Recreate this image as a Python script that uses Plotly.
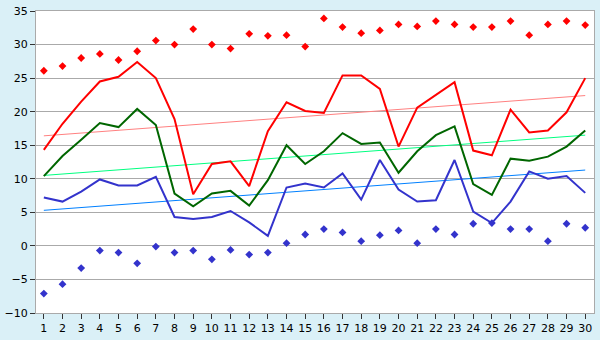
import plotly.graph_objects as go

days = list(range(1, 31))
t_max = [14.3, 18.2, 21.5, 24.5, 25.2, 27.4, 25.0, 18.9, 7.7, 12.2,
         12.6, 8.9, 17.1, 21.4, 20.1, 19.8, 25.4, 25.4, 23.4, 14.8,
         20.6, 22.5, 24.4, 14.2, 13.5, 20.3, 16.9, 17.2, 19.9, 25.0]
t_mean = [10.4, 13.4, 15.8, 18.3, 17.7, 20.4, 18.0, 7.8, 5.9, 7.8,
          8.2, 6.0, 9.8, 15.0, 12.2, 14.1, 16.8, 15.2, 15.4, 10.9,
          14.1, 16.5, 17.8, 9.2, 7.6, 13.0, 12.7, 13.3, 14.8, 17.2]
t_min = [7.2, 6.6, 8.1, 9.9, 9.0, 9.0, 10.3, 4.3, 4.0, 4.3,
         5.2, 3.5, 1.5, 8.7, 9.3, 8.7, 10.8, 6.9, 12.8, 8.4,
         6.6, 6.8, 12.8, 5.1, 3.4, 6.6, 11.1, 10.0, 10.4, 7.9]
rec_max = [26.1, 26.8, 28.0, 28.6, 27.7, 29.0, 30.6, 30.0, 32.3, 30.0,
           29.4, 31.6, 31.3, 31.4, 29.7, 33.9, 32.6, 31.7, 32.1, 33.0,
           32.7, 33.5, 33.0, 32.6, 32.6, 33.5, 31.4, 33.0, 33.5, 32.9]
rec_min = [-7.1, -5.7, -3.3, -0.7, -1.0, -2.6, -0.1, -1.0, -0.7, -2.0,
           -0.6, -1.3, -1.0, 0.4, 1.7, 2.5, 2.0, 0.7, 1.6, 2.3,
           0.4, 2.5, 1.7, 3.3, 3.4, 2.5, 2.5, 0.7, 3.3, 2.7]
y_ticks = [-10, -5, 0, 5, 10, 15, 20, 25, 30, 35]
trend_days = [1, 30]
trend_max = [16.4, 22.4]
trend_mean = [10.5, 16.5]
trend_min = [5.3, 11.3]

fig = go.Figure()
fig.add_trace(go.Scatter(x=days, y=rec_max, mode="markers",
                         marker=dict(symbol="diamond", size=6, color="#ff0000")))
fig.add_trace(go.Scatter(x=days, y=rec_min, mode="markers",
                         marker=dict(symbol="diamond", size=6, color="#3333cc")))
fig.add_trace(go.Scatter(x=trend_days, y=trend_max, mode="lines",
                         line=dict(color="#ff8080", width=1)))
fig.add_trace(go.Scatter(x=trend_days, y=trend_mean, mode="lines",
                         line=dict(color="#00ff80", width=1)))
fig.add_trace(go.Scatter(x=trend_days, y=trend_min, mode="lines",
                         line=dict(color="#0080ff", width=1)))
fig.add_trace(go.Scatter(x=days, y=t_max, mode="lines",
                         line=dict(color="#ff0000", width=2)))
fig.add_trace(go.Scatter(x=days, y=t_mean, mode="lines",
                         line=dict(color="#006600", width=2)))
fig.add_trace(go.Scatter(x=days, y=t_min, mode="lines",
                         line=dict(color="#3333cc", width=2)))

fig.update_layout(
    width=600, height=340,
    margin=dict(l=27, r=5, t=5, b=20),
    paper_bgcolor="#daf0f7",
    plot_bgcolor="#ffffff",
    showlegend=False,
    font=dict(family="DejaVu Sans", size=11, color="#000000"),
)
fig.update_xaxes(range=[0.58, 30.47], tickvals=days, showgrid=False,
                 ticks="outside", ticklen=5, tickcolor="#333333",
                 showline=True, linecolor="#aaaaaa", linewidth=1, mirror=True,
                 zeroline=False, ticklabeloverflow="allow")
fig.update_yaxes(range=[-10, 35], tickvals=y_ticks, showgrid=True, gridcolor="#aaaaaa",
                 ticks="outside", ticklen=5, tickcolor="#333333",
                 showline=True, linecolor="#aaaaaa", linewidth=1, mirror=True,
                 zeroline=False, ticklabeloverflow="allow")

fig.write_html("out.html")
